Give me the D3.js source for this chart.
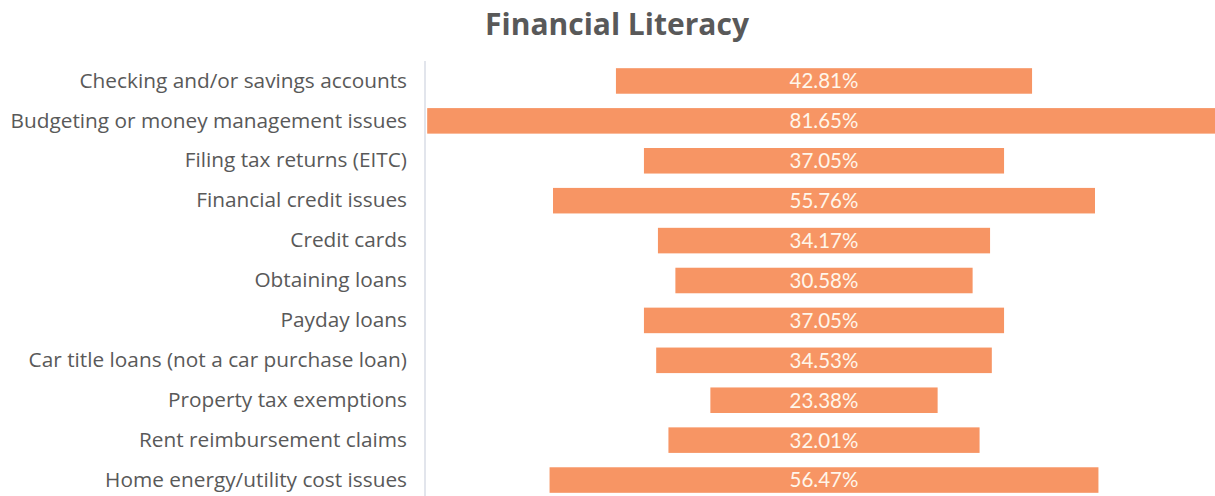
<!DOCTYPE html>
<html>
<head>
<meta charset="utf-8">
<script src="https://cdn.jsdelivr.net/npm/d3@7"></script>
<style>
  body { margin: 0; background: #fff; }
  svg { display: block; }
</style>
</head>
<body>
<div id="chart"></div>
<script>
const categories = [
  "Checking and/or savings accounts",
  "Budgeting or money management issues",
  "Filing tax returns (EITC)",
  "Financial credit issues",
  "Credit cards",
  "Obtaining loans",
  "Payday loans",
  "Car title loans (not a car purchase loan)",
  "Property tax exemptions",
  "Rent reimbursement claims",
  "Home energy/utility cost issues"
];

const values = [42.81, 81.65, 37.05, 55.76, 34.17, 30.58, 37.05, 34.53, 23.38, 32.01, 56.47];

const width = 1215;
const height = 496;
const margin = { top: 61, right: -8, bottom: -4, left: 425 };

const svg = d3.select("#chart")
  .append("svg")
  .attr("width", width)
  .attr("height", height);

// funnel: each bar is centred, so the scale runs from -half to +half
const half = 41.05;
const x = d3.scaleLinear()
  .domain([-half, half])
  .range([margin.left, width - margin.right]);

const y = d3.scaleBand()
  .domain(categories)
  .range([margin.top, height - margin.bottom])
  .paddingInner(0.36)
  .paddingOuter(0.18);

svg.append("text")
  .attr("x", 617)
  .attr("y", 35)
  .attr("text-anchor", "middle")
  .attr("font-family", "Open Sans, sans-serif")
  .attr("font-weight", "bold")
  .attr("font-size", 30)
  .attr("fill", "#595959")
  .text("Financial Literacy");

const rows = categories.map((c, i) => ({ name: c, value: values[i] }));

svg.append("g")
  .selectAll("rect")
  .data(rows)
  .join("rect")
    .attr("x", d => x(-d.value / 2))
    .attr("y", d => y(d.name))
    .attr("width", d => x(d.value / 2) - x(-d.value / 2))
    .attr("height", y.bandwidth())
    .attr("fill", "#F79564");

svg.append("g")
  .selectAll("text")
  .data(rows)
  .join("text")
    .attr("x", x(0))
    .attr("y", d => y(d.name) + y.bandwidth() / 2)
    .attr("dy", "0.36em")
    .attr("text-anchor", "middle")
    .attr("font-family", "Lato, sans-serif")
    .attr("font-size", 20.5)
    .attr("fill", "#fff6ea")
    .text(d => d.value.toFixed(2) + "%");

// category axis on the left
const yAxis = d3.axisLeft(y).tickSize(0).tickPadding(18);
const ax = svg.append("g")
  .attr("transform", `translate(${margin.left},0)`)
  .call(yAxis);
ax.select(".domain")
  .attr("stroke", "#d9dde6")
  .attr("stroke-width", 1.5)
  .attr("d", `M0,${margin.top}V${height}`);
ax.selectAll("text")
  .attr("font-family", "Open Sans, sans-serif")
  .attr("font-size", 20.8)
  .attr("fill", "#595959");
</script>
</body>
</html>
